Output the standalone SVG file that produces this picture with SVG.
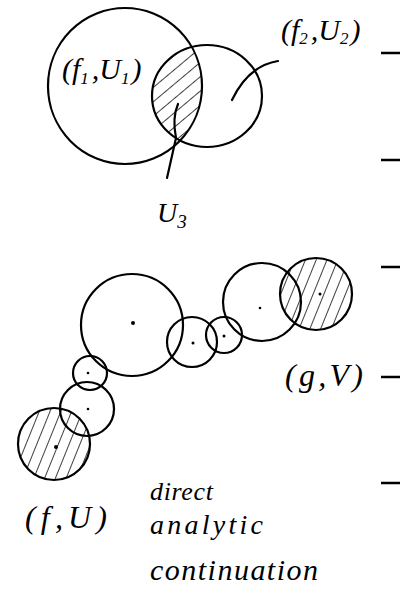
<svg xmlns="http://www.w3.org/2000/svg" width="407" height="589" viewBox="0 0 407 589">
<style>
.c{fill:none;stroke:#000;stroke-width:2.2;stroke-linecap:round;stroke-linejoin:round}
.t{font-family:"Liberation Serif",serif;font-style:italic;fill:#000}
.dot{fill:#000}
.tick{stroke:#000;stroke-width:2.5}
</style>
<defs>
<pattern id="h1" patternUnits="userSpaceOnUse" width="11" height="11" patternTransform="rotate(50)"><line x1="0" y1="-2" x2="0" y2="13" stroke="#000" stroke-width="1.5"/></pattern>
<pattern id="h2" patternUnits="userSpaceOnUse" width="10" height="10" patternTransform="rotate(22)"><line x1="0" y1="-2" x2="0" y2="12" stroke="#000" stroke-width="1.5"/></pattern>
<clipPath id="cA"><ellipse cx="125" cy="86" rx="77" ry="78"/></clipPath>
<clipPath id="cB"><ellipse cx="207" cy="96" rx="55" ry="51"/></clipPath>
</defs>
<rect width="407" height="589" fill="#fff"/>

<g id="ticks">
<line class="tick" x1="381" y1="53" x2="400" y2="53"/>
<line class="tick" x1="381" y1="160" x2="400" y2="160"/>
<line class="tick" x1="381" y1="267" x2="400" y2="267"/>
<line class="tick" x1="381" y1="377" x2="400" y2="377"/>
<line class="tick" x1="381" y1="483" x2="400" y2="483"/>
</g>

<g id="U3-region">
<g clip-path="url(#cA)"><g clip-path="url(#cB)"><rect x="140" y="30" width="80" height="130" fill="url(#h1)"/></g></g>
</g>
<g id="f1U1">
<ellipse class="c" cx="125" cy="86" rx="77" ry="78"/>
<text class="t" x="62" y="79" font-size="30">(f<tspan font-size="17" dy="5">1</tspan><tspan dy="-5" dx="3">,U</tspan><tspan font-size="17" dy="5">1</tspan><tspan dy="-5" dx="2">)</tspan></text>
</g>
<g id="f2U2">
<ellipse class="c" cx="207" cy="96" rx="55" ry="51"/>
<text class="t" x="281" y="40" font-size="30">(f<tspan font-size="17" dy="4">2</tspan><tspan dy="-4" dx="3">,U</tspan><tspan font-size="17" dy="4">2</tspan><tspan dy="-4" dx="2">)</tspan></text>
</g>
<g id="U3">
<text class="t" x="157" y="222" font-size="28">U<tspan font-size="19" dy="6">3</tspan></text>
</g>

<g id="chain">
<g id="fU">
<circle cx="54" cy="444" r="36" fill="url(#h2)"/>
<circle class="c" cx="54" cy="444" r="36"/>
<circle class="dot" cx="56" cy="447" r="2"/>
<text class="t" x="25" y="528" font-size="32" textLength="82" lengthAdjust="spacing">(f,U)</text>
</g>
<g id="disc2"><circle class="c" cx="87" cy="409" r="27"/><circle class="dot" cx="88" cy="409" r="1.3"/></g>
<g id="disc3"><circle class="c" cx="90" cy="373" r="17"/><circle class="dot" cx="88" cy="373" r="1.3"/></g>
<g id="disc4"><circle class="c" cx="132" cy="325" r="51"/><circle class="dot" cx="133" cy="323" r="2"/></g>
<g id="disc5"><circle class="c" cx="192" cy="342" r="25"/><circle class="dot" cx="193" cy="343" r="1.5"/></g>
<g id="disc6"><circle class="c" cx="224" cy="335" r="18"/><circle class="dot" cx="224" cy="336" r="1.5"/></g>
<g id="disc7"><circle class="c" cx="262" cy="302" r="39"/><circle class="dot" cx="260" cy="308" r="1.3"/></g>
<g id="gV">
<circle cx="316" cy="294" r="36" fill="url(#h2)"/>
<circle class="c" cx="316" cy="294" r="36"/>
<circle class="dot" cx="320" cy="294" r="1.5"/>
<text class="t" x="285" y="386" font-size="32" textLength="78" lengthAdjust="spacing">(g,V)</text>
</g>
</g>

<g id="caption">
<text class="t" x="150" y="500" font-size="26" textLength="63" lengthAdjust="spacing">direct</text>
<text class="t" x="150" y="534" font-size="28" textLength="113" lengthAdjust="spacing">analytic</text>
<text class="t" x="150" y="580" font-size="30" textLength="168" lengthAdjust="spacing">continuation</text>
</g>

<g id="connectors">
<path class="c" d="M278,61 Q248,66 232,100"/>
<path class="c" d="M178,104 Q172,118 176,138 L167,178"/>
</g>
</svg>
